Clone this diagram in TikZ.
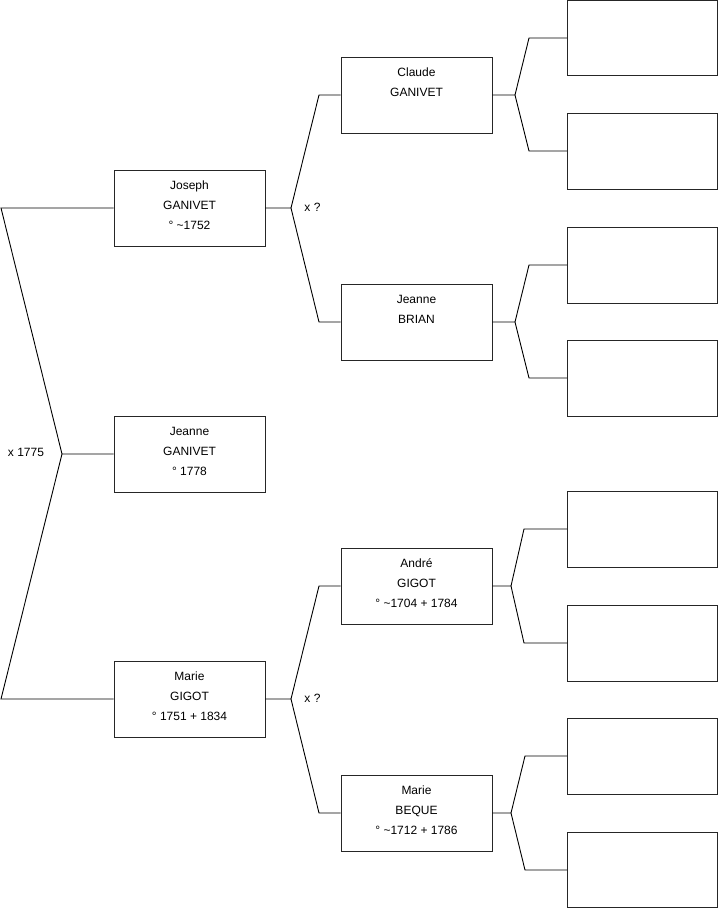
\documentclass[tikz,border=0pt]{standalone}
\usepackage{fontspec}
\setmainfont{Liberation Sans}
\usetikzlibrary{calc}
\begin{document}
\begin{tikzpicture}[x=1pt,y=-1pt,
  person/.style={draw=black!85,line width=0.9pt,rectangle,minimum width=151pt,minimum height=76pt,inner sep=0pt},
  ptext/.style={align=center,font=\fontsize{12}{20}\selectfont,inner sep=0pt,anchor=base},
  lab/.style={font=\fontsize{12}{14}\selectfont,inner sep=0pt,anchor=base},
  conn/.style={draw=black,line width=0.9pt}]
\useasboundingbox (0,0) rectangle (719,908);
% persons
\node[person] (joseph) at (189.5,208) {};
\node[person] (jeanneg) at (189.5,454) {};
\node[person] (marieg) at (189.5,699) {};
\node[person] (claude) at (416.5,95) {};
\node[person] (jeanneb) at (416.5,322) {};
\node[person] (andre) at (416.5,586) {};
\node[person] (marieb) at (416.5,813) {};
\node[person,minimum width=150pt,minimum height=75pt] (e1) at (642.5,38) {};
\node[person,minimum width=150pt] (e2) at (642.5,151) {};
\node[person,minimum width=150pt] (e3) at (642.5,265) {};
\node[person,minimum width=150pt] (e4) at (642.5,378) {};
\node[person,minimum width=150pt] (e5) at (642.5,529) {};
\node[person,minimum width=150pt] (e6) at (642.5,643) {};
\node[person,minimum width=150pt] (e7) at (642.5,756) {};
\node[person,minimum width=150pt,minimum height=75pt] (e8) at (642.5,870) {};
% texts (anchored at the baseline of the last line)
\node[ptext] (tjoseph) at ($(joseph.north)+(0,60)$) {Joseph\\GANIVET\\° \textasciitilde1752};
\node[ptext] (tjeanneg) at ($(jeanneg.north)+(0,60)$) {Jeanne\\GANIVET\\° 1778};
\node[ptext] (tmarieg) at ($(marieg.north)+(0,60)$) {Marie\\GIGOT\\° 1751 + 1834};
\node[ptext] (tclaude) at ($(claude.north)+(0,40)$) {Claude\\GANIVET};
\node[ptext] (tjeanneb) at ($(jeanneb.north)+(0,40)$) {Jeanne\\BRIAN};
\node[ptext] (tandre) at ($(andre.north)+(0,60)$) {André\\GIGOT\\° \textasciitilde1704 + 1784};
\node[ptext] (tmarieb) at ($(marieb.north)+(0,60)$) {Marie\\BEQUE\\° \textasciitilde1712 + 1786};
% fork coordinates
\coordinate (f0) at (62,454);
\coordinate (f0a) at (1,208);
\coordinate (f0b) at (1,699);
\coordinate (f1) at (291,208);
\coordinate (f1a) at (319,95);
\coordinate (f1b) at (319,322);
\coordinate (f2) at (291,699);
\coordinate (f2a) at (319,586);
\coordinate (f2b) at (319,813);
\coordinate (f3) at (515,95);
\coordinate (f3a) at (529,38);
\coordinate (f3b) at (529,151);
\coordinate (f4) at (515,322);
\coordinate (f4a) at (529,265);
\coordinate (f4b) at (529,378);
\coordinate (f5) at (511,586);
\coordinate (f5a) at (524,529);
\coordinate (f5b) at (524,643);
\coordinate (f6) at (511,813);
\coordinate (f6a) at (525,756);
\coordinate (f6b) at (525,870);
% connectors
\draw[conn] (jeanneg.west) -- (f0) -- (f0a) -- (joseph.west);
\draw[conn] (f0) -- (f0b) -- (marieg.west);
\draw[conn] (joseph.east) -- (f1) -- (f1a) -- (claude.west);
\draw[conn] (f1) -- (f1b) -- (jeanneb.west);
\draw[conn] (marieg.east) -- (f2) -- (f2a) -- (andre.west);
\draw[conn] (f2) -- (f2b) -- (marieb.west);
\draw[conn] (claude.east) -- (f3) -- (f3a) -- (e1.west);
\draw[conn] (f3) -- (f3b) -- (e2.west);
\draw[conn] (jeanneb.east) -- (f4) -- (f4a) -- (e3.west);
\draw[conn] (f4) -- (f4b) -- (e4.west);
\draw[conn] (andre.east) -- (f5) -- (f5a) -- (e5.west);
\draw[conn] (f5) -- (f5b) -- (e6.west);
\draw[conn] (marieb.east) -- (f6) -- (f6a) -- (e7.west);
\draw[conn] (f6) -- (f6b) -- (e8.west);
% marriage labels
\node[lab] (m0) at (26,456) {x 1775};
\node[lab] (m1) at (312.5,211.5) {x ?};
\node[lab] (m2) at (312.5,702.5) {x ?};
\end{tikzpicture}
\end{document}
